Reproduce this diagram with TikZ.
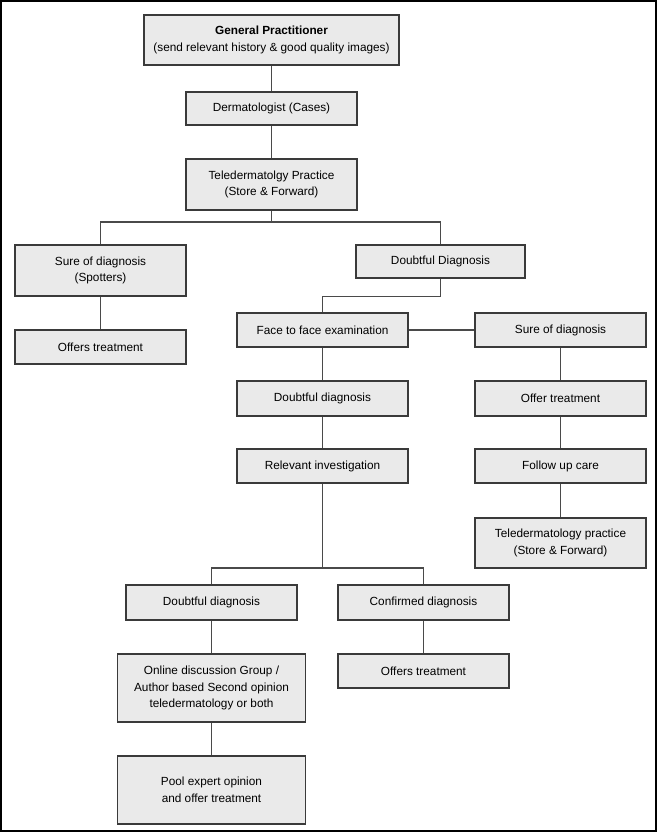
\documentclass[tikz,border=0pt]{standalone}
\usepackage{fontspec}
\setmainfont{Liberation Sans}
\definecolor{boxfill}{HTML}{EAEAEA}
\definecolor{boxedge}{HTML}{3A3A3A}
\definecolor{linkc}{HTML}{4A4A4A}
\begin{document}
\begin{tikzpicture}[x=1pt,y=-1pt,
  box/.style={draw=boxedge, fill=boxfill, line width=1.3pt, align=center,
    inner sep=0pt, font=\fontsize{11.8}{16.5}\selectfont, minimum width=171pt, minimum height=34pt},
  link/.style={draw=linkc, line width=1.2pt}]
\useasboundingbox (0,0) rectangle (657,832);
\fill[white] (0,0) rectangle (657,832);
\draw[black, line width=2pt] (1,1) rectangle (656,831);

\node[box, minimum width=255pt, minimum height=50pt] (gp) at (271.5,40) {\textbf{General Practitioner}\\(send relevant history \& good quality images)};
\node[box, minimum height=33pt] (derm) at (271.5,108.5) {Dermatologist (Cases)};
\node[box, minimum height=51pt] (tele) at (271.5,184.5) {Teledermatolgy Practice\\(Store \& Forward)};
\node[box, minimum height=51pt] (sure1) at (100.5,270.5) {Sure of diagnosis\\(Spotters)};
\node[box] (offers1) at (100.5,347) {Offers treatment};
\node[box, minimum width=169pt, minimum height=33pt] (doubt1) at (440.5,261.5) {Doubtful Diagnosis};
\node[box] (face) at (322.5,330) {Face to face examination};
\node[box] (sure2) at (560.5,330) {Sure of diagnosis};
\node[box, minimum height=35pt] (doubt2) at (322.5,398.5) {Doubtful diagnosis};
\node[box, minimum height=35pt] (offer2) at (560.5,398.5) {Offer treatment};
\node[box] (relev) at (322.5,466) {Relevant investigation};
\node[box] (follow) at (560.5,466) {Follow up care};
\node[box, minimum height=50pt] (tele2) at (560.5,543) {Teledermatology practice\\(Store \& Forward)};
\node[box, minimum height=35pt] (doubt3) at (211.5,602.5) {Doubtful diagnosis};
\node[box, minimum height=35pt] (confirmed) at (423.5,602.5) {Confirmed diagnosis};
\node[box, minimum width=188pt, minimum height=68pt] (online) at (211.5,688) {Online discussion Group /\\Author based Second opinion\\teledermatology or both};
\node[box] (offers3) at (423.5,671) {Offers treatment};
\node[box, minimum width=188pt, minimum height=68pt] (pool) at (211.5,790) {Pool expert opinion\\and offer treatment};

\coordinate (j1) at (271.5,222);
\coordinate (j2) at (322.5,568);

\draw[link] (gp.south) -- (derm.north);
\draw[link] (derm.south) -- (tele.north);
\draw[link] (tele.south) -- (j1);
\draw[link] (sure1.north) |- (j1) -| (doubt1.north);
\draw[link] (sure1.south) -- (offers1.north);
\draw[link] (doubt1.south) -- ++(0,18) -| (face.north);
\draw[link] (face.east) -- (sure2.west);
\draw[link] (face.south) -- (doubt2.north);
\draw[link] (doubt2.south) -- (relev.north);
\draw[link] (sure2.south) -- (offer2.north);
\draw[link] (offer2.south) -- (follow.north);
\draw[link] (follow.south) -- (tele2.north);
\draw[link] (relev.south) -- (j2);
\draw[link] (doubt3.north) |- (j2) -| (confirmed.north);
\draw[link] (doubt3.south) -- (online.north);
\draw[link] (online.south) -- (pool.north);
\draw[link] (confirmed.south) -- (offers3.north);
\end{tikzpicture}
\end{document}
